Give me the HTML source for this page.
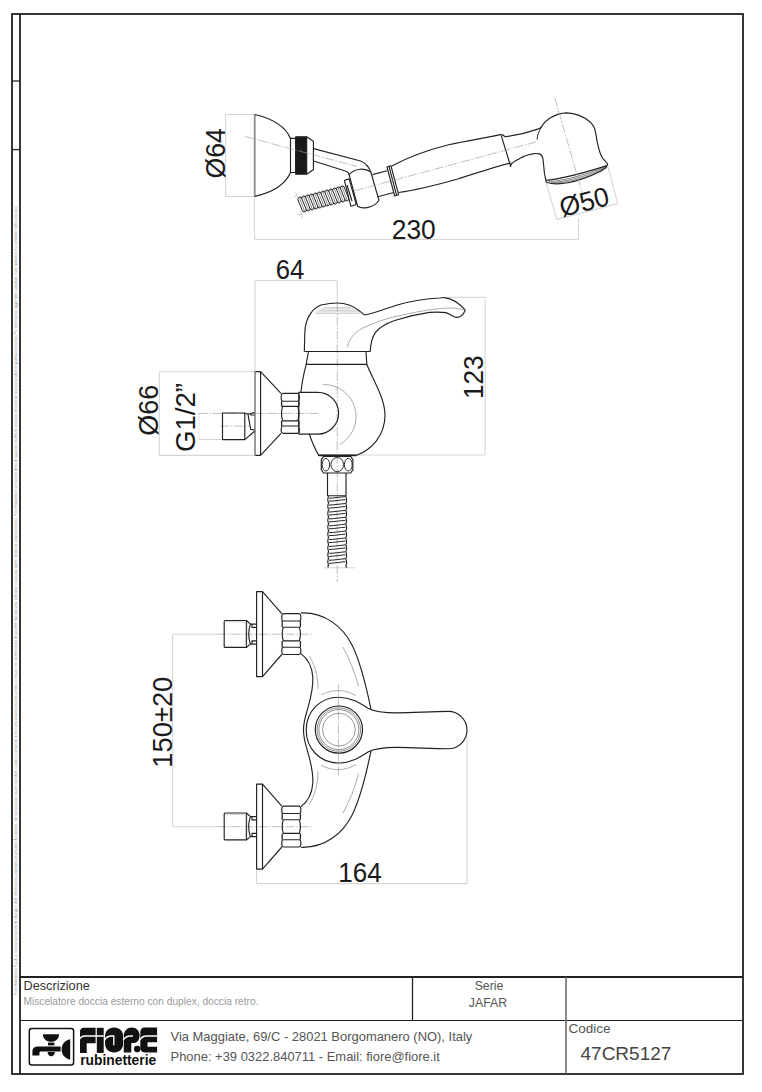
<!DOCTYPE html>
<html><head><meta charset="utf-8">
<style>
html,body{margin:0;padding:0;background:#fff;width:762px;height:1092px;overflow:hidden}
svg{display:block}
text{font-family:"Liberation Sans",sans-serif}
</style></head>
<body>
<svg width="762" height="1092" viewBox="0 0 762 1092">
<!-- FRAME -->
<g fill="none" stroke="#222" stroke-width="1.8">
<rect x="12" y="14" width="731" height="1060"/>
<line x1="20" y1="14" x2="20" y2="1074"/>
<line x1="12" y1="81" x2="20" y2="81" stroke-width="1.3"/>
<line x1="12" y1="149.6" x2="20" y2="149.6" stroke-width="1.3"/>
<line x1="20" y1="977" x2="743" y2="977"/>
<line x1="20" y1="1020.5" x2="743" y2="1020.5" stroke-width="1.15"/>
<line x1="412.5" y1="977" x2="412.5" y2="1020.5" stroke-width="1.3"/>
<line x1="566" y1="977" x2="566" y2="1074" stroke="#666" stroke-width="1.5"/>
</g>
<!-- tiny vertical legal text -->
<text transform="translate(17.2,995) rotate(-90)" font-size="3.3" fill="#8a8a8a" textLength="789" lengthAdjust="spacingAndGlyphs">Fiore Rubinetterie S.p.A. si riserva la proprietà dei disegni e delle informazioni contenute nel presente documento, che non possono essere riprodotti, copiati o comunicati a terzi senza autorizzazione scritta. Le misure e le caratteristiche dei prodotti illustrati sono indicative e possono subire variazioni senza preavviso. Fiore Rubinetterie si riserva il diritto di apportare modifiche tecniche ed estetiche ai propri prodotti in qualsiasi momento. Per informazioni aggiornate consultare il sito www.fiore.it o contattare l'ufficio tecnico.</text>


<!-- ============ TOP: HAND SHOWER ============ -->
<g id="dims1" fill="none" stroke="#d6d6d6" stroke-width="1.1">
<line x1="225.5" y1="114.5" x2="254.5" y2="114.5"/>
<line x1="225.5" y1="196.5" x2="254.5" y2="196.5"/>
<line x1="225.5" y1="114.5" x2="225.5" y2="196.5"/>
<line x1="254.5" y1="196.5" x2="254.5" y2="239.5"/>
<line x1="254.5" y1="239.5" x2="578.5" y2="239.5"/>
<line x1="578.5" y1="218" x2="578.5" y2="239.5"/>
<line x1="546" y1="182" x2="556.8" y2="219.4"/>
<line x1="607.6" y1="165" x2="617.7" y2="203.6"/>
<line x1="556.8" y1="219.4" x2="617.7" y2="203.6"/>
</g>
<g fill="#1a1a1a" font-size="26">
<text transform="translate(224.8,153.3) rotate(-90)" text-anchor="middle" font-size="27" textLength="50.3" lengthAdjust="spacingAndGlyphs">&#216;64</text>
<text x="413.8" y="238.8" text-anchor="middle" font-size="27" textLength="44" lengthAdjust="spacingAndGlyphs">230</text>
<text transform="translate(586.5,210.8) rotate(-14.5)" text-anchor="middle" font-size="27" textLength="50" lengthAdjust="spacingAndGlyphs">&#216;50</text>
</g>
<!-- hose -->
<g transform="translate(299.3,205.2) rotate(-14.5)" fill="none" stroke="#222" stroke-width="0.95">
<path d="M0,-6.3 Q2.00,-9.4 4.00,-6.3 Q6.00,-9.4 8.00,-6.3 Q10.00,-9.4 12.00,-6.3 Q14.00,-9.4 16.00,-6.3 Q18.00,-9.4 20.00,-6.3 Q22.00,-9.4 24.00,-6.3 Q26.00,-9.4 28.00,-6.3 Q30.00,-9.4 32.00,-6.3 Q34.00,-9.4 36.00,-6.3 Q38.00,-9.4 40.00,-6.3 Q42.00,-9.4 44.00,-6.3 Q46.00,-9.4 48.00,-6.3 "/>
<path d="M1.6,6.3 Q3.60,9.4 5.60,6.3 Q7.60,9.4 9.60,6.3 Q11.60,9.4 13.60,6.3 Q15.60,9.4 17.60,6.3 Q19.60,9.4 21.60,6.3 Q23.60,9.4 25.60,6.3 Q27.60,9.4 29.60,6.3 Q31.60,9.4 33.60,6.3 Q35.60,9.4 37.60,6.3 Q39.60,9.4 41.60,6.3 Q43.60,9.4 45.60,6.3 Q47.60,9.4 49.60,6.3 "/>
<path d="M0.00,-6.3 L1.60,6.3 M4.00,-6.3 L5.60,6.3 M8.00,-6.3 L9.60,6.3 M12.00,-6.3 L13.60,6.3 M16.00,-6.3 L17.60,6.3 M20.00,-6.3 L21.60,6.3 M24.00,-6.3 L25.60,6.3 M28.00,-6.3 L29.60,6.3 M32.00,-6.3 L33.60,6.3 M36.00,-6.3 L37.60,6.3 M40.00,-6.3 L41.60,6.3 M44.00,-6.3 L45.60,6.3 M48.00,-6.3 L49.60,6.3 "/>
<path d="M2.00,-7.6 L3.60,7.6 M6.00,-7.6 L7.60,7.6 M10.00,-7.6 L11.60,7.6 M14.00,-7.6 L15.60,7.6 M18.00,-7.6 L19.60,7.6 M22.00,-7.6 L23.60,7.6 M26.00,-7.6 L27.60,7.6 M30.00,-7.6 L31.60,7.6 M34.00,-7.6 L35.60,7.6 M38.00,-7.6 L39.60,7.6 M42.00,-7.6 L43.60,7.6 M46.00,-7.6 L47.60,7.6 " stroke-width="0.6" stroke="#555"/>
</g>
<g id="shower" fill="none" stroke="#222" stroke-width="1.15" stroke-linejoin="round">
<!-- wall flange -->
<line x1="254.7" y1="114.5" x2="254.7" y2="196.4" stroke="#8a8a8a" stroke-width="1.8"/>
<path d="M254.7,114.5 Q283,121 290.5,138.4 M290.5,172.5 Q283,190 254.7,196.4"/>
<rect x="290.5" y="138.4" width="5.2" height="34.1"/>
<rect x="295.7" y="136.7" width="11" height="37.5" fill="#1a1a1a"/>
<path d="M306.7,136.7 L313.4,141.2 L313.4,169.6 L306.7,174.2" stroke-linejoin="miter"/>
<!-- arm -->
<path d="M313.6,148.6 L360.6,161 Q367.5,163.5 370.8,172"/>
<path d="M313.6,161 L346.1,171.2 Q348.4,172.2 349.1,174.6"/>
<!-- swivel holder -->
<path d="M349.1,174.6 Q353,170 360,169.2 Q366,168.6 370.8,172 L378.9,200.2 Q375.5,206 367,207.6 Q361,208.6 357.6,206.2 Z"/>
<path d="M344.4,180.2 L349.1,178.9 L356.3,204.5 L350.8,206.2 Z" fill="#fff"/>
<path d="M347,185 L352,201"/>
<!-- stem -->
<path d="M372.5,174.6 L387,170.8 M377.7,196.8 L393.9,192.5"/>
<path d="M387,167 L390.9,165.7 L398.6,194.7 L394.7,196 Z M389,166.4 L396.6,195.4"/>
<!-- handle body -->
<path d="M391.7,166 C406,158.5 426,150.5 448.7,144.8 C468,140.2 488,137.8 500.9,134.4"/>
<path d="M398.5,192.5 C420,189.5 440,184 458.6,178.7 C478,172.5 495,167 510.7,163"/>
<path d="M500.9,134.4 L510.7,166.5"/>
<!-- head -->
<path d="M501.8,134.2 Q503.5,135.5 505.2,136.8 C512,136 528,132.5 537.7,129.1 Q540,128.3 541,127.4 C543,124 546,120.6 550,118 C556,114.5 561,113 566.7,112.9 C575,113 583,116 590.5,122.3 C593,125 594.5,127 594.8,129.1 C596,134 596.5,138 597.4,142.8 C599,150 600.5,155 602.5,158.1 C604.5,160.5 607,162.5 607.6,164.1 C607,167 604,169.5 599,172 C590,176.5 580,180.5 568,182.8 C560,184.3 552,184.4 546.2,182.2"/>
<path d="M607,165.6 C590,171 566,178.2 546.2,180.4"/>
<path d="M546.2,182.2 L544.5,173.5 C543.8,168 543.5,162 542.8,158.1 C542,155.5 541,154.3 539.4,153.9 C537,153.4 534.5,153.4 532.5,153.9 C527,155 523,156.5 520.6,158.1 C516,160.5 513,162 512,163.2 Q510.9,164.8 510.4,166.7"/>
<path d="M541.5,127.2 C539,130.5 537.3,135 537.1,139.6" stroke-width="1"/>
<g stroke-width="0.6" stroke="#333">
<path d="M548.5,181.7 C566,180.4 588,174 606.5,166.3"/>
<path d="M551,182.6 C569,181.4 590,175 606.8,167"/>
<path d="M554,183.3 C572,182.2 592,176 607.2,167.6"/>
</g>
</g>

<g stroke="#aaa" stroke-width="0.6" fill="none"><path d="M295.5,192.5 L298.5,198.5 M297,195.5 L294,197 M300.5,211 L302.3,218.5 M301.3,214 L297.5,214.8"/></g>
<g fill="none" stroke="#9c9c9c" stroke-width="0.65" stroke-dasharray="9 1.6 1.6 1.6">
<line x1="245" y1="136.5" x2="357" y2="166.5"/>
<line x1="354.6" y1="190.8" x2="537" y2="141.7"/>
<line x1="554.7" y1="97.6" x2="582" y2="192.2"/>
</g>


<!-- ============ MIDDLE: SIDE VIEW ============ -->
<g id="dims2" fill="none" stroke="#d6d6d6" stroke-width="1.1">
<line x1="255" y1="280.5" x2="337.2" y2="280.5"/>
<line x1="337.2" y1="280.5" x2="337.2" y2="303"/>
<line x1="255" y1="280.5" x2="255" y2="371.6"/>
<line x1="159.4" y1="371.8" x2="254.7" y2="371.8"/>
<line x1="159.4" y1="455.4" x2="254.7" y2="455.4"/>
<line x1="159.4" y1="371.8" x2="159.4" y2="455.4"/>
<line x1="199" y1="439.5" x2="222.5" y2="439.5"/>
<line x1="199" y1="413.2" x2="199" y2="439.5" stroke-dasharray="1.5 1.5"/>
<line x1="447" y1="297.4" x2="485.2" y2="297.4"/>
<line x1="358.6" y1="455" x2="485.2" y2="455"/>
<line x1="485.2" y1="297.4" x2="485.2" y2="455"/>
<line x1="324" y1="567.8" x2="355" y2="567.8"/>
</g>
<g fill="#1a1a1a" font-size="26">
<text x="290" y="279" text-anchor="middle" font-size="27" textLength="28.6" lengthAdjust="spacingAndGlyphs">64</text>
<text transform="translate(157.8,410.3) rotate(-90)" text-anchor="middle" font-size="27" textLength="51" lengthAdjust="spacingAndGlyphs">&#216;66</text>
<text transform="translate(195.4,417.5) rotate(-90)" text-anchor="middle" font-size="27" textLength="69" lengthAdjust="spacingAndGlyphs">G1/2&#8221;</text>
<text transform="translate(482.7,377.3) rotate(-90)" text-anchor="middle" font-size="27" textLength="43.6" lengthAdjust="spacingAndGlyphs">123</text>
</g>
<g fill="none" stroke="#9c9c9c" stroke-width="0.65" stroke-dasharray="9 1.6 1.6 1.6">
<line x1="337.2" y1="303" x2="337.2" y2="582"/>
<line x1="199" y1="413.4" x2="318" y2="413.4"/>
<line x1="220" y1="426.1" x2="249" y2="426.1"/>
</g>
<g id="side" fill="none" stroke="#222" stroke-width="1.15" stroke-linejoin="round">
<!-- cap & lever -->
<path d="M304.3,351.5 L370.3,351.5"/>
<path d="M304.3,351.5 L304.8,333 C305,320 311,309 321,305 C328,303.5 333,303 337.4,303 C346,303 354,306.5 359.8,311.2 Q362.5,313.8 364.8,315 C370,314.5 376,312 397.2,305 C412,300.8 428,298.5 439.6,298 C442,297.8 443,297.6 444.2,297.6 C452,298.5 460,304 465.2,310.2 C463.5,314.5 460.5,317.5 456.5,317.4 C453,317.2 449.5,313.5 445.7,312.6 C440,311.8 436,311.9 429.6,312.4 C418,314 404,317.5 394.7,320.5 C386,323.5 379,328 375.5,332.4 C371.5,338 370.5,345 370.3,351.5"/>
<path d="M347.4,347.4 C349,338 356,330 367.3,326.2 C378,321 390,317.5 402.2,315 C420,311 438,308.3 449.6,308 C455,308 459,308.8 463,309.6" stroke="#888" stroke-width="0.7"/>
<path d="M315,313.4 L360,313.4 M316.5,311.9 L358.5,311.9 M318.5,310.4 L356.5,310.4 M321,308.9 L354,308.9 M324,307.5 L350.5,307.5" stroke="#b0b0b0" stroke-width="0.6"/>
<!-- ring -->
<path d="M308.5,351.5 L306.2,364.3 L366.8,364.3 L366,351.5"/>
<!-- body -->
<path d="M306.2,364.3 C303.5,374 302,383 300.9,392"/>
<path d="M309.3,434 C312,442 315,449 318.7,455.4 L356.4,455.4"/>
<path d="M366.8,364.3 C372,378 385,398 385,415 C385,436 371,450 356.4,455.4"/>
<path d="M318.7,455.4 L356.4,455.4" stroke-width="1.8"/>
<path d="M323,384.6 A32,32 0 0 1 339.7,444.5" stroke="#888" stroke-width="0.7"/>
<!-- D connector -->
<path d="M298.8,392.3 L317.7,392.3 A20.9,20.9 0 0 1 317.7,434.1 L298.8,434.1 Z"/>
<!-- hex nut -->
<path d="M283,393.3 L297.5,393.3 Q299.3,393.6 299.3,396 L299.3,399 Q299.3,400.8 297.5,401.2 L283,401.2 Q281.2,400.8 281.2,399 L281.2,396 Q281.2,393.6 283,393.3 Z"/>
<path d="M282.6,406.4 L297.8,406.4 Q300,413.6 297.8,420.8 L282.6,420.8 Q280.4,413.6 282.6,406.4 Z"/>
<path d="M283,426 L297.5,426 Q299.3,426.4 299.3,428.2 L299.3,431 Q299.3,433 297.5,433.3 L283,433.3 Q281.2,433 281.2,431 L281.2,428.2 Q281.2,426.4 283,426 Z"/>
<path d="M281.6,401.2 L281.6,406.4 M298.9,401.2 L298.9,406.4 M281.6,420.8 L281.6,426 M298.9,420.8 L298.9,426" stroke-width="1.3"/>
<!-- flange -->
<path d="M255,371.6 L260.6,371.6 M255,455.4 L260.6,455.4 M260.6,371.6 L260.6,455.4"/>
<line x1="255" y1="371.6" x2="255" y2="455.4" stroke="#8a8a8a" stroke-width="1.7"/>
<path d="M260.6,371.6 L281,393.3 M260.6,455.4 L281,433.3"/>
<!-- G1/2 connector -->
<rect x="222.5" y="413" width="22.3" height="26.6"/>
<path d="M244.8,413.3 L248,414.3 L254.6,412.6 M248,414.3 L250.7,429.4 L254.6,430 M250,415 L254.6,415 M244.8,439.6 L254.6,431.3"/>
<!-- bottom nut -->
<path d="M323.6,456.3 L350.6,456.3 L352.9,459.6 L352.9,469.8 L350.6,473 L323.6,473 L321.3,469.8 L321.3,459.6 Z"/>
<ellipse cx="325.9" cy="464.7" rx="3.7" ry="6.3" stroke-width="0.95"/>
<ellipse cx="337.2" cy="464.6" rx="6.3" ry="7.1" stroke-width="0.95"/>
<ellipse cx="348.3" cy="464.7" rx="3.9" ry="6.3" stroke-width="0.95"/>
<!-- hose fitting -->
<path d="M327.5,473 L327.5,495.7 L346,495.7 L346,473"/>
<!-- spiral hose -->
<path d="M328.6,496.20 Q327.0,499.65 328.6,503.10 Q327.0,506.55 328.6,510.00 Q327.0,513.45 328.6,516.90 Q327.0,520.35 328.6,523.80 Q327.0,527.25 328.6,530.70 Q327.0,534.15 328.6,537.60 Q327.0,541.05 328.6,544.50 Q327.0,547.95 328.6,551.40 Q327.0,554.85 328.6,558.30 Q327.0,561.75 328.6,565.20 Q327.0,566.20 328.6,567.20 " stroke-width="1.1"/>
<path d="M345.8,496.20 Q347.4,501.15 345.8,503.10 Q347.4,508.05 345.8,510.00 Q347.4,514.95 345.8,516.90 Q347.4,521.85 345.8,523.80 Q347.4,528.75 345.8,530.70 Q347.4,535.65 345.8,537.60 Q347.4,542.55 345.8,544.50 Q347.4,549.45 345.8,551.40 Q347.4,556.35 345.8,558.30 Q347.4,563.25 345.8,565.20 Q347.4,567.70 345.8,567.20 " stroke-width="1.1"/>
<path d="M329,498.20 C335,498.00 340,497.00 345.5,496.60 M329,501.20 C335,501.00 340,500.00 345.5,499.60 M329,505.10 C335,504.90 340,503.90 345.5,503.50 M329,508.10 C335,507.90 340,506.90 345.5,506.50 M329,512.00 C335,511.80 340,510.80 345.5,510.40 M329,515.00 C335,514.80 340,513.80 345.5,513.40 M329,518.90 C335,518.70 340,517.70 345.5,517.30 M329,521.90 C335,521.70 340,520.70 345.5,520.30 M329,525.80 C335,525.60 340,524.60 345.5,524.20 M329,528.80 C335,528.60 340,527.60 345.5,527.20 M329,532.70 C335,532.50 340,531.50 345.5,531.10 M329,535.70 C335,535.50 340,534.50 345.5,534.10 M329,539.60 C335,539.40 340,538.40 345.5,538.00 M329,542.60 C335,542.40 340,541.40 345.5,541.00 M329,546.50 C335,546.30 340,545.30 345.5,544.90 M329,549.50 C335,549.30 340,548.30 345.5,547.90 M329,553.40 C335,553.20 340,552.20 345.5,551.80 M329,556.40 C335,556.20 340,555.20 345.5,554.80 M329,560.30 C335,560.10 340,559.10 345.5,558.70 M329,563.30 C335,563.10 340,562.10 345.5,561.70 " stroke-width="1.0"/>
</g>


<!-- ============ BOTTOM: FRONT VIEW ============ -->
<g id="dims3" fill="none" stroke="#d6d6d6" stroke-width="1.1">
<line x1="172.6" y1="634.2" x2="216.7" y2="634.2"/>
<line x1="172.6" y1="826.7" x2="216.7" y2="826.7"/>
<line x1="172.6" y1="634.2" x2="172.6" y2="826.7"/>
<line x1="256.6" y1="869.1" x2="256.6" y2="884"/>
<line x1="467" y1="736" x2="467" y2="884"/>
<line x1="256.6" y1="883.6" x2="467" y2="883.6"/>
</g>
<g fill="#1a1a1a" font-size="26">
<text transform="translate(171.9,722.2) rotate(-90)" text-anchor="middle" font-size="27" textLength="91" lengthAdjust="spacingAndGlyphs">150&#177;20</text>
<text x="360" y="881.7" text-anchor="middle" font-size="27" textLength="43.4" lengthAdjust="spacingAndGlyphs">164</text>
</g>
<g fill="none" stroke="#9c9c9c" stroke-width="0.65" stroke-dasharray="9 1.6 1.6 1.6">
<line x1="216.7" y1="634.2" x2="313.3" y2="634.2"/>
<line x1="216.7" y1="826.7" x2="313.3" y2="826.7"/>
<line x1="338.4" y1="683.7" x2="338.4" y2="776.5"/>
</g>

<g transform="translate(0,634.2)"><g fill="none" stroke="#222" stroke-width="1.15" stroke-linejoin="round">
<rect x="256.6" y="-42.6" width="5.9" height="85"/>
<path d="M262.5,-42.6 L281.8,-20.6 M262.5,42.4 L281.8,20.3"/>
<path d="M283.6,-20.6 L299,-20.6 Q300.8,-20.3 300.8,-18 L300.8,-15 Q300.8,-13.5 299,-13.2 L283.6,-13.2 Q281.8,-13.5 281.8,-15 L281.8,-18 Q281.8,-20.3 283.6,-20.6 Z"/>
<path d="M283.3,-7 L299.3,-7 Q301.5,0 299.3,6.7 L283.3,6.7 Q281.1,0 283.3,-7 Z"/>
<path d="M283.6,13 L299,13 Q300.8,13.3 300.8,15 L300.8,18 Q300.8,20 299,20.3 L283.6,20.3 Q281.8,20 281.8,18 L281.8,15 Q281.8,13.3 283.6,13 Z"/>
<path d="M282.2,-13.2 L282.2,-7 M300.4,-13.2 L300.4,-7 M282.2,6.7 L282.2,13 M300.4,6.7 L300.4,13" stroke-width="1.3"/>
<path d="M225.2,-13.7 L246.5,-13.7 L246.5,13.2 L225.2,13.2 Q224.2,13.2 224.2,12.2 L224.2,-12.7 Q224.2,-13.7 225.2,-13.7 Z"/>
<path d="M246.5,-13.7 L250.4,-10.1 Q247,0 250.4,9.9 L246.5,13.2"/>
<path d="M250.4,-10.1 L256.3,-10.1 M252,-10.1 L252,-6.8 L256.3,-6.8 M250.4,9.9 L256.3,9.9 M252,9.9 L252,6.6 L256.3,6.6"/>
<path d="M245.8,-12.5 L245.8,12 M225.5,-12.4 L245.5,-12.4" stroke="#aaa" stroke-width="0.6"/>
</g></g>
<g transform="translate(0,826.7)"><g fill="none" stroke="#222" stroke-width="1.15" stroke-linejoin="round">
<rect x="256.6" y="-42.6" width="5.9" height="85"/>
<path d="M262.5,-42.6 L281.8,-20.6 M262.5,42.4 L281.8,20.3"/>
<path d="M283.6,-20.6 L299,-20.6 Q300.8,-20.3 300.8,-18 L300.8,-15 Q300.8,-13.5 299,-13.2 L283.6,-13.2 Q281.8,-13.5 281.8,-15 L281.8,-18 Q281.8,-20.3 283.6,-20.6 Z"/>
<path d="M283.3,-7 L299.3,-7 Q301.5,0 299.3,6.7 L283.3,6.7 Q281.1,0 283.3,-7 Z"/>
<path d="M283.6,13 L299,13 Q300.8,13.3 300.8,15 L300.8,18 Q300.8,20 299,20.3 L283.6,20.3 Q281.8,20 281.8,18 L281.8,15 Q281.8,13.3 283.6,13 Z"/>
<path d="M282.2,-13.2 L282.2,-7 M300.4,-13.2 L300.4,-7 M282.2,6.7 L282.2,13 M300.4,6.7 L300.4,13" stroke-width="1.3"/>
<path d="M225.2,-13.7 L246.5,-13.7 L246.5,13.2 L225.2,13.2 Q224.2,13.2 224.2,12.2 L224.2,-12.7 Q224.2,-13.7 225.2,-13.7 Z"/>
<path d="M246.5,-13.7 L250.4,-10.1 Q247,0 250.4,9.9 L246.5,13.2"/>
<path d="M250.4,-10.1 L256.3,-10.1 M252,-10.1 L252,-6.8 L256.3,-6.8 M250.4,9.9 L256.3,9.9 M252,9.9 L252,6.6 L256.3,6.6"/>
<path d="M245.8,-12.5 L245.8,12 M225.5,-12.4 L245.5,-12.4" stroke="#aaa" stroke-width="0.6"/>
</g></g>
<g id="front" fill="none" stroke="#222" stroke-width="1.15" stroke-linejoin="round">
<g>
<path d="M300.9,612.9 C325,612 343,627 352,645 C360,661 366,685 371.1,709.8"/>
<path d="M300.9,653.6 C307,658 312,666 312.8,677 C313.5,690 310,700 307,711 C304.5,719 303.5,724 303.5,730.1"/>
<path d="M338.6,697.2 C320,697.2 306.2,711.5 306.2,730.1"/>
<path d="M338.6,697.2 C351,697.2 360,703 368,708.2 C375,712 384,712.8 397,712.8 C415,712.5 432,711.6 448.3,711.4 C458.6,711.4 467,719.8 467,730.1"/>
<g stroke="#8a8a8a" stroke-width="0.7">
<path d="M309.4,656.2 C315,665 318,677 318,689"/>
<path d="M342.9,647 C350,660 355,673 358.6,686.4"/>
<path d="M321.2,694.9 C332,689 345,689 356,695.6"/>
</g>
</g>
<g transform="matrix(1,0,0,-1,0,1460.2)"><g>
<path d="M300.9,612.9 C325,612 343,627 352,645 C360,661 366,685 371.1,709.8"/>
<path d="M300.9,653.6 C307,658 312,666 312.8,677 C313.5,690 310,700 307,711 C304.5,719 303.5,724 303.5,730.1"/>
<path d="M338.6,697.2 C320,697.2 306.2,711.5 306.2,730.1"/>
<path d="M338.6,697.2 C351,697.2 360,703 368,708.2 C375,712 384,712.8 397,712.8 C415,712.5 432,711.6 448.3,711.4 C458.6,711.4 467,719.8 467,730.1"/>
<g stroke="#8a8a8a" stroke-width="0.7">
<path d="M309.4,656.2 C315,665 318,677 318,689"/>
<path d="M342.9,647 C350,660 355,673 358.6,686.4"/>
<path d="M321.2,694.9 C332,689 345,689 356,695.6"/>
</g>
</g></g>
<circle cx="338.9" cy="729.6" r="23.6" stroke-width="1.2"/>
<circle cx="338.9" cy="729.6" r="21.7" stroke-width="0.6" stroke="#444"/>
<circle cx="338.9" cy="729.6" r="20" stroke-width="0.6" stroke="#444"/>
<circle cx="338.9" cy="729.6" r="16.4" stroke-width="0.6" stroke="#555"/>
</g>

<!-- TITLE BLOCK TEXT -->
<text x="23.5" y="990" font-size="12.7" fill="#333">Descrizione</text>
<text x="23.5" y="1005" font-size="10.2" fill="#9a9a9a">Miscelatore doccia esterno con duplex, doccia retro.</text>
<text x="489" y="989.7" font-size="12.3" fill="#555" text-anchor="middle">Serie</text>
<text x="488" y="1007" font-size="12.3" fill="#555" text-anchor="middle">JAFAR</text>
<text x="568.5" y="1032.8" font-size="13.5" fill="#555">Codice</text>
<text x="580.5" y="1060" font-size="19" fill="#444">47CR5127</text>
<text x="170.5" y="1040.7" font-size="12.95" fill="#555">Via Maggiate, 69/C - 28021 Borgomanero (NO), Italy</text>
<text x="170.5" y="1060.7" font-size="12.95" fill="#555">Phone: +39 0322.840711 - Email: fiore@fiore.it</text>

<!-- LOGO -->
<g id="logo">
<rect x="29.3" y="1028.5" width="44.3" height="36.6" rx="2.5" fill="none" stroke="#111" stroke-width="1.5"/>
<g fill="#111">
<path d="M42.8,1034.2 L59.2,1034.2 C58.8,1039 55.5,1041.8 51,1041.8 C46.5,1041.8 43.2,1039 42.8,1034.2 Z"/>
<rect x="48" y="1042.6" width="6.4" height="2.8"/>
<path d="M60.6,1046.4 L37,1046.4 C34,1046.4 32.4,1048.5 32.4,1051.5 L32.4,1055.4 L39.4,1055.4 L39.4,1053 C39.4,1052 40,1051.4 41,1051.4 L60.6,1051.4 Z"/>
<path d="M47.6,1052 L54.8,1052 C54.8,1054.5 53.2,1056.3 51.2,1056.3 C49.2,1056.3 47.6,1054.5 47.6,1052 Z"/>
<path d="M70.2,1039.2 L70.2,1059.6 C65,1058.5 61.6,1054.5 61.6,1049.4 C61.6,1044.3 65,1040.3 70.2,1039.2 Z"/>
</g>
<g fill="#111">
<!-- F -->
<path d="M80,1052.9 L80,1031.5 C80,1029.4 81.6,1027.8 83.7,1027.8 L95.6,1027.8 L95.6,1043.3 L86.7,1043.3 L86.7,1052.9 Z"/>
<!-- I -->
<rect x="96.8" y="1027.8" width="6.9" height="25.1"/>
<!-- O -->
<path d="M105.1,1036 C105.1,1031.2 108.6,1027.6 114.1,1027.6 C119.6,1027.6 123.1,1031.2 123.1,1036 L123.1,1044 C123.1,1048.8 119.6,1052.4 114.1,1052.4 C108.6,1052.4 105.1,1048.8 105.1,1044 Z"/>
<!-- R -->
<path d="M123.8,1052.4 L123.8,1036 C123.8,1031 127.5,1027.6 131.8,1027.6 C136.2,1027.6 139.6,1031 139.6,1035.3 C139.6,1039.5 137.5,1042.9 134.2,1042.9 L131.3,1042.9 L131.3,1052.4 Z"/>
<circle cx="137.2" cy="1049.1" r="3.3"/>
<!-- E -->
<path d="M157.1,1027.6 L144.5,1027.6 C142,1027.6 140.3,1029.6 140.3,1032.2 L140.3,1047.8 C140.3,1050.4 142,1052.4 144.5,1052.4 L157.1,1052.4 L157.1,1046.8 L147.5,1046.8 L147.5,1042.2 L157.1,1042.2 Z"/>
</g>
<g fill="none" stroke="#fff" stroke-width="1.3">
<path d="M79.5,1039.5 C80.5,1037 82.5,1036 85,1036 L103.7,1036"/>
<path d="M104.8,1040 C106,1037.3 108.5,1036 111.5,1036 L113.8,1036 L113.8,1045.3"/>
<path d="M123.5,1040 C124.8,1037.3 127.5,1036 130.5,1036 L133,1036"/>
<path d="M140,1040 C141.2,1037.3 143.5,1036 146.5,1036 L157.5,1036"/>
</g>
<text x="80.2" y="1065" font-size="14.6" font-weight="bold" fill="#111" textLength="76" lengthAdjust="spacingAndGlyphs">rubinetterie</text>
</g>

</svg>
</body></html>
